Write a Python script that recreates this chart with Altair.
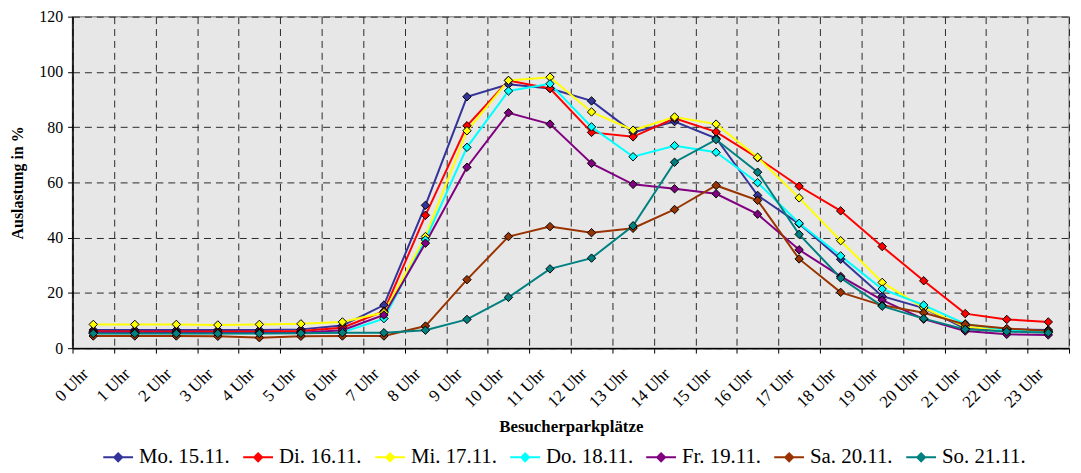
import altair as alt
import pandas as pd

hours = ["0 Uhr", "1 Uhr", "2 Uhr", "3 Uhr", "4 Uhr", "5 Uhr", "6 Uhr", "7 Uhr",
         "8 Uhr", "9 Uhr", "10 Uhr", "11 Uhr", "12 Uhr", "13 Uhr", "14 Uhr", "15 Uhr",
         "16 Uhr", "17 Uhr", "18 Uhr", "19 Uhr", "20 Uhr", "21 Uhr", "22 Uhr", "23 Uhr"]

series_names = ["Mo. 15.11.", "Di. 16.11.", "Mi. 17.11.", "Do. 18.11.",
                "Fr. 19.11.", "Sa. 20.11.", "So. 21.11."]
series_colors = ["#333399", "#ff0000", "#ffff00", "#00ffff",
                 "#800080", "#993300", "#008080"]

mo = [6.6, 6.6, 6.6, 6.6, 6.6, 6.8, 8.2, 15.6, 51.7, 91.0, 95.5, 94.0,
      89.5, 78.1, 82.0, 76.0, 55.3, 45.0, 32.2, 18.8, 14.5, 7.1, 6.8, 6.6]
di = [6.1, 6.0, 6.0, 6.0, 6.0, 6.2, 7.4, 13.4, 48.1, 80.5, 96.9, 94.0,
      78.1, 76.5, 83.2, 78.3, 68.9, 58.6, 49.7, 36.8, 24.4, 12.5, 10.4, 9.5]
mi = [8.6, 8.6, 8.6, 8.4, 8.6, 8.8, 9.5, 12.9, 40.4, 78.7, 96.9, 98.1,
      85.5, 78.9, 83.7, 81.1, 69.1, 54.4, 38.9, 23.8, 14.6, 7.7, 6.7, 6.0]
do = [5.4, 5.4, 5.4, 5.4, 5.4, 5.5, 5.8, 10.7, 39.2, 72.7, 93.1, 95.7,
      80.1, 69.3, 73.3, 70.9, 59.9, 45.2, 33.4, 21.4, 15.6, 8.8, 6.5, 5.8]
fr = [5.7, 5.6, 5.6, 5.5, 5.5, 5.6, 6.5, 12.0, 38.0, 65.5, 85.2, 81.1,
      66.9, 59.3, 57.7, 55.9, 48.5, 35.6, 26.0, 17.4, 10.5, 6.2, 5.0, 4.8]
sa = [4.4, 4.4, 4.4, 4.3, 3.8, 4.3, 4.4, 4.4, 8.0, 24.8, 40.4, 44.0,
      41.8, 43.4, 50.2, 58.9, 53.5, 32.3, 20.2, 15.5, 12.8, 8.6, 7.1, 6.2]
so = [5.3, 5.3, 5.3, 5.3, 5.3, 5.4, 5.6, 5.6, 6.5, 10.4, 18.4, 28.7,
      32.6, 44.3, 67.3, 75.5, 63.7, 41.2, 25.4, 15.2, 10.7, 6.8, 6.0, 5.6]

y_ticks = [0, 20, 40, 60, 80, 100, 120]

all_series = [mo, di, mi, do, fr, sa, so]
rows = []
for name, vals in zip(series_names, all_series):
    for h, v in zip(hours, vals):
        rows.append({"Stunde": h, "Tag": name, "Wert": v})
df = pd.DataFrame(rows)

FONT = "Liberation Serif"

x_enc = alt.X(
    "Stunde:N",
    sort=hours,
    scale=alt.Scale(paddingInner=0, paddingOuter=0),
    axis=alt.Axis(
        title="Besucherparkplätze",
        tickBand="extent",
        labelAngle=315,
        labelAlign="right",
        labelBaseline="middle",
        labelOffset=-8,
        labelPadding=18,
        labelFontSize=17,
        labelColor="black",
        labelFont=FONT,
        tickSize=5,
        tickColor="black",
        domainColor="black",
        domainWidth=1.5,
        grid=True,
        gridDash=[7, 5],
        gridColor="#2a2a2a",
        gridWidth=1,
        titleFont=FONT,
        titleFontSize=17,
        titleFontWeight="bold",
        titleColor="black",
        titleBaseline="middle",
        titleY=79,
    ),
)

y_enc = alt.Y(
    "Wert:Q",
    scale=alt.Scale(domain=[0, 120], nice=False),
    axis=alt.Axis(
        title="Auslastung in %",
        values=y_ticks,
        labelFontSize=16,
        labelFont=FONT,
        labelColor="black",
        labelPadding=5,
        tickSize=5,
        tickColor="black",
        domainColor="black",
        domainWidth=1.5,
        grid=True,
        gridDash=[7, 5],
        gridColor="#2a2a2a",
        gridWidth=1,
        titleFont=FONT,
        titleFontSize=16,
        titleFontWeight="bold",
        titleColor="black",
        titleBaseline="middle",
        titleX=-55,
    ),
)

legend = alt.Legend(
    title=None,
    orient="none",
    legendX=30,
    legendY=428,
    direction="horizontal",
    columns=7,
    symbolType="M-1,0L1,0M-0.27,0L0,-0.27L0.27,0L0,0.27Z",
    symbolSize=900,
    symbolStrokeWidth=2,
    labelFont=FONT,
    labelFontSize=21,
    labelColor="black",
    labelOffset=5,
    columnPadding=9,
)

color_enc = alt.Color(
    "Tag:N",
    sort=series_names,
    scale=alt.Scale(domain=series_names, range=series_colors),
    legend=legend,
)

base = alt.Chart(df)

lines = base.mark_line(strokeWidth=2).encode(x=x_enc, y=y_enc, color=color_enc)

points = base.mark_point(
    shape="diamond", filled=True, size=72, stroke="black", strokeWidth=1, opacity=1
).encode(
    x=x_enc, y=y_enc,
    fill=alt.Fill("Tag:N", sort=series_names,
                  scale=alt.Scale(domain=series_names, range=series_colors),
                  legend=None),
)

chart = alt.layer(lines, points).properties(
    width=1004,
    height=334,
    autosize=alt.AutoSizeParams(type="none"),
    padding={"left": 65, "top": 7, "right": 4, "bottom": 118},
    background="white",
).configure_view(
    fill="#e7e7e7",
    stroke="#9a9a9a",
    strokeWidth=1.5,
)

chart.save("out.html", embed_options={"renderer": "svg", "actions": False})
